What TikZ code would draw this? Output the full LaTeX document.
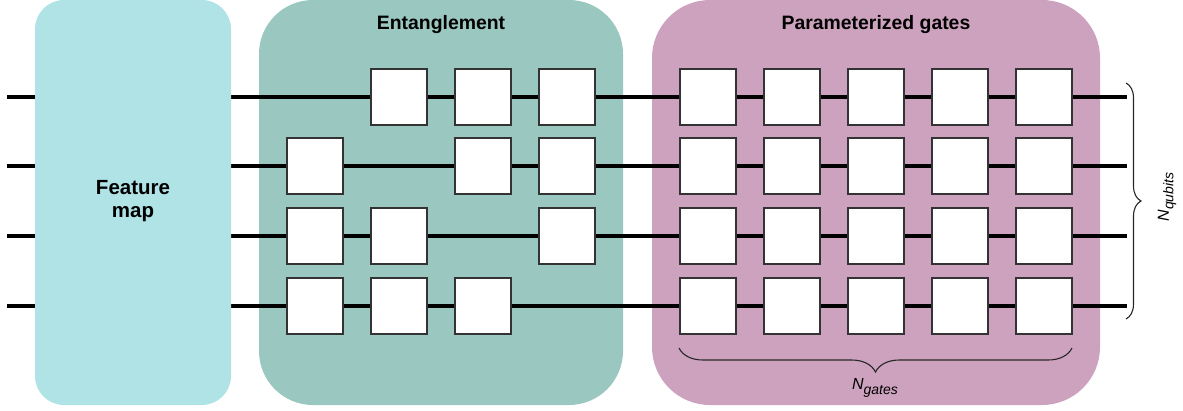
\documentclass[tikz,border=0pt]{standalone}
\usepackage{fontspec}
\setmainfont{Liberation Sans}
\usetikzlibrary{decorations.pathreplacing}
\definecolor{fmcol}{HTML}{B0E3E6}
\definecolor{entcol}{HTML}{9AC7BF}
\definecolor{parcol}{HTML}{CDA2BE}
\definecolor{gateline}{HTML}{333333}
\newcommand{\mysub}[1]{\raisebox{-4.5pt}{\fontsize{14}{16}\selectfont #1}}
\tikzset{
  panel/.style={draw=none, rounded corners=#1},
  gatebox/.style={draw=gateline, line width=1.3pt, fill=white, minimum width=56pt, minimum height=56pt, inner sep=0pt},
  wire/.style={line width=3.5pt, black},
  title/.style={font=\fontsize{19.4}{22}\selectfont\bfseries, align=center, inner sep=0pt},
  bracestyle/.style={draw=black!85, line width=1.1pt, decorate},
  dimlabel/.style={font=\fontsize{16}{19}\selectfont\itshape, inner sep=0pt}
}
\begin{document}
\begin{tikzpicture}[x=1pt,y=-1pt]
\useasboundingbox (0,0) rectangle (1183,410);
% panels
\fill[entcol, panel=54pt] (259,0) rectangle (623,405);
\fill[parcol, panel=58pt] (652,0) rectangle (1100,405);
% wires
\foreach \r/\y in {1/97,2/166,3/236,4/306}{
  \coordinate (ws\r) at (7,\y);
  \coordinate (we\r) at (1127,\y);
  \draw[wire] (ws\r) -- (we\r);
}
% feature map
\fill[fmcol, panel=29pt] (35,0) rectangle (231,405);
\node[title, font=\fontsize{20.5}{23}\selectfont\bfseries] (fm) at (133,201) {Feature\\map};
\node[title, anchor=base] (enttitle) at (441,29) {Entanglement};
\node[title, anchor=base] (partitle) at (876,29) {Parameterized gates};
% entanglement gates
\foreach \r/\y/\cols in {1/97/{2,3,4},2/166/{1,3,4},3/236/{1,2,4},4/306/{1,2,3}}{
  \foreach \c in \cols {
    \node[gatebox] (e\r\c) at ({315+84*(\c-1)},\y) {};
  }
}
% parameterized gates
\foreach \r/\y in {1/97,2/166,3/236,4/306}{
  \foreach \c in {1,...,5}{
    \node[gatebox] (p\r\c) at ({708+84*(\c-1)},\y) {};
  }
}
% braces
\coordinate (qbt) at (1126,83);
\coordinate (qbb) at (1126,319);
\draw[bracestyle, decoration={brace, amplitude=15pt}] (qbt) -- (qbb);
\node[dimlabel, rotate=90] (nq) at (1167,197) {N\mysub{qubits}};
\coordinate (gbl) at (679,348);
\coordinate (gbr) at (1072,348);
\draw[bracestyle, decoration={brace, amplitude=24pt}] (gbr) -- (gbl);
\node[dimlabel] (ng) at (875,388) {N\mysub{gates}};
\end{tikzpicture}
\end{document}
